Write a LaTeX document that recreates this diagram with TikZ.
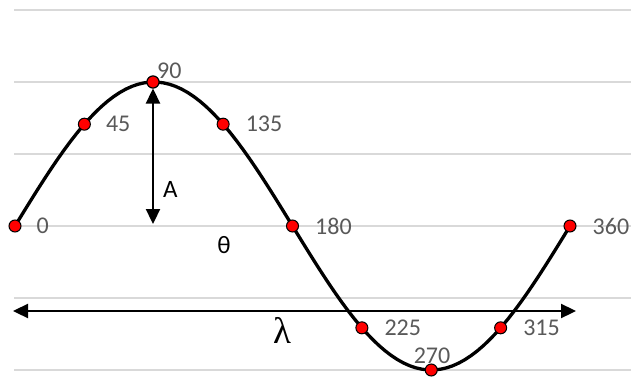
\documentclass[tikz,border=0pt]{standalone}
\usepackage{fontspec}
\setmainfont{Carlito}
\newfontfamily\lamfont{Liberation Serif}
\usetikzlibrary{arrows.meta, positioning}
\definecolor{gridgray}{HTML}{D9D9D9}
\definecolor{labelgray}{HTML}{595959}

\begin{document}
\begin{tikzpicture}[
  x=1pt, y=-1pt,
  node distance=16pt,
  grid/.style={draw=gridgray, line width=1.2pt},
  wave/.style={line width=3.3pt},
  dot/.style={circle, draw, fill=red, inner sep=0pt, minimum size=12pt, line width=1pt},
  lbl/.style={text=labelgray, inner sep=0pt, font=\fontsize{24}{28}\selectfont},
  sym/.style={inner sep=0pt, font=\fontsize{25}{30}\selectfont},
  arr/.style={{Triangle[length=15pt,width=14pt]}-{Triangle[length=15pt,width=14pt]}, line width=2.3pt}
]
\useasboundingbox (0,0) rectangle (635,378);
% gridlines
\foreach \y in {10,82,154,226,298,370}
  \draw[grid] (14,\y) -- (631,\y);
% wave
\draw[wave, domain=0:360, samples=91] plot ({15+\x*1.541667}, {226-144*sin(\x)});
% amplitude and wavelength arrows
\coordinate (axis) at (153,224);
\coordinate (lamL) at (13,311);
\coordinate (lamR) at (576,311);
\node[dot] (p90) at (153,82) {};
\draw[arr] (p90) -- (axis);
\draw[arr] (lamL) -- (lamR);
% data points
\foreach \a in {0,45,135,180,225,270,315,360}
  \node[dot] (p\a) at ({15+\a*1.541667}, {226-144*sin(\a)}) {};
\node[dot] (p90) at (153,82) {};
% labels
\node[lbl, right=15pt of p0] (t0) {0};
\node[lbl, right=15pt of p45] (t45) {45};
\node[lbl, anchor=base west] (t90) at (157,78) {90};
\node[lbl, right=of p135] (t135) {135};
\node[lbl, right=of p180] (t180) {180};
\node[lbl, right=of p225] (t225) {225};
\node[lbl, anchor=base] (t270) at (432,363) {270};
\node[lbl, right=of p315] (t315) {315};
\node[lbl, right=of p360] (t360) {360};
\node[sym, anchor=west] (amp) at (163,189) {A};
\node[sym] (theta) at (224,245) {θ};
\node[inner sep=0pt, font=\lamfont\fontsize{37}{40}\selectfont] (lam) at (282,330) {λ};
\end{tikzpicture}
\end{document}
